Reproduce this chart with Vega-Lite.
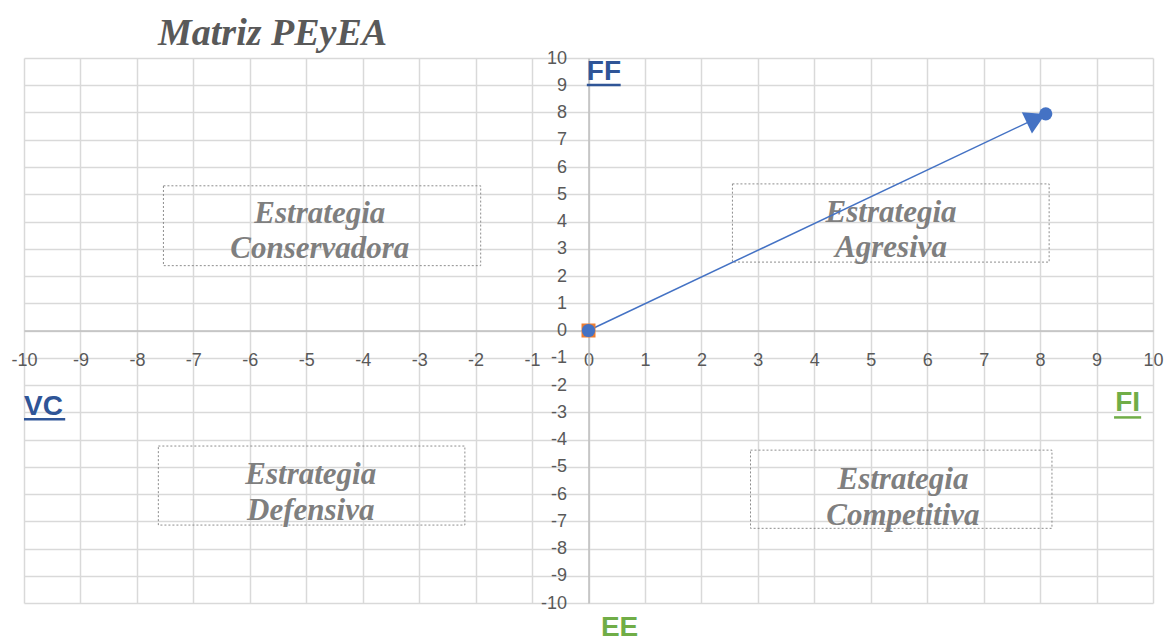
{
  "$schema": "https://vega.github.io/schema/vega-lite/v6.json",
  "width": 1129,
  "height": 545,
  "autosize": {"type": "none"},
  "padding": {"left": 24, "top": 58, "right": 12, "bottom": 39},
  "background": "#FFFFFF",
  "title": {
    "text": "Matriz PEyEA",
    "font": "Liberation Serif",
    "fontSize": 38,
    "fontStyle": "italic",
    "fontWeight": "bold",
    "color": "#595959",
    "anchor": "start",
    "frame": "group",
    "baseline": "alphabetic",
    "dx": 134,
    "offset": -34
  },
  "config": {
    "view": {"stroke": null},
    "axis": {
      "grid": true,
      "gridColor": "#D9D9D9",
      "gridWidth": 1.5,
      "domainColor": "#BFBFBF",
      "domainWidth": 1.5,
      "ticks": false,
      "tickSize": 0,
      "labelPadding": 21,
      "labelFont": "Liberation Sans",
      "labelFontSize": 18,
      "labelColor": "#595959",
      "labelFlush": false,
      "labelOverlap": false,
      "labelExpr": "'' + datum.value",
      "title": null
    }
  },
  "datasets": {
    "vector": [
      {"x": 0, "y": 0},
      {"x": 8.1, "y": 7.95}
    ],
    "origen": [
      {"x": 0, "y": 0}
    ],
    "flecha": [
      {"x": 7.93, "y": 7.78}
    ],
    "cuadrantes": [
      {"estrategia": "Estrategia\nConservadora", "x1": -7.53, "x2": -1.91, "y1": 5.31, "y2": 2.38, "tx": -4.76, "ty": 3.96},
      {"estrategia": "Estrategia\nAgresiva", "x1": 2.55, "x2": 8.16, "y1": 5.38, "y2": 2.51, "tx": 5.36, "ty": 3.99},
      {"estrategia": "Estrategia\nDefensiva", "x1": -7.62, "x2": -2.19, "y1": -4.24, "y2": -7.14, "tx": -4.92, "ty": -5.64},
      {"estrategia": "Estrategia\nCompetitiva", "x1": 2.87, "x2": 8.21, "y1": -4.39, "y2": -7.26, "tx": 5.57, "ty": -5.83}
    ],
    "ejes": [
      {"eje": "FF", "tipo": "Interna", "lx": -0.03, "ly": 9.19, "subrayado": true, "ux1": -0.03, "ux2": 0.57, "uy": 9.01},
      {"eje": "VC", "tipo": "Interna", "lx": -10.0, "ly": -3.1, "subrayado": true, "ux1": -10.0, "ux2": -9.27, "uy": -3.26},
      {"eje": "FI", "tipo": "Externa", "lx": 9.33, "ly": -2.94, "subrayado": true, "ux1": 9.31, "ux2": 9.79, "uy": -3.19},
      {"eje": "EE", "tipo": "Externa", "lx": 0.22, "ly": -11.21, "subrayado": false, "ux1": 0.22, "ux2": 0.22, "uy": -11.21}
    ]
  },
  "layer": [
    {
      "data": {"name": "cuadrantes"},
      "mark": {"type": "rect", "filled": false, "stroke": "#808080", "strokeWidth": 0.9, "strokeDash": [2, 2]},
      "encoding": {
        "x": {
          "field": "x1", "type": "quantitative",
          "scale": {"domain": [-10, 10], "nice": false, "zero": false},
          "axis": {"values": [-10,-9,-8,-7,-6,-5,-4,-3,-2,-1,0,1,2,3,4,5,6,7,8,9,10], "offset": -272.5, "labelPadding": 21}
        },
        "x2": {"field": "x2"},
        "y": {
          "field": "y1", "type": "quantitative",
          "scale": {"domain": [-10, 10], "nice": false, "zero": false},
          "axis": {"values": [-10,-9,-8,-7,-6,-5,-4,-3,-2,-1,0,1,2,3,4,5,6,7,8,9,10], "offset": -564.5, "labelPadding": 22}
        },
        "y2": {"field": "y2"}
      }
    },
    {
      "data": {"name": "cuadrantes"},
      "mark": {"type": "text", "font": "Liberation Serif", "fontSize": 31, "fontStyle": "italic", "fontWeight": "bold", "color": "#7F7F7F", "align": "center", "baseline": "alphabetic", "lineBreak": "\n", "lineHeight": 35.5},
      "encoding": {
        "x": {"field": "tx", "type": "quantitative", "axis": {"values": [-10,-9,-8,-7,-6,-5,-4,-3,-2,-1,0,1,2,3,4,5,6,7,8,9,10], "offset": -272.5, "labelPadding": 21}},
        "y": {"field": "ty", "type": "quantitative", "axis": {"values": [-10,-9,-8,-7,-6,-5,-4,-3,-2,-1,0,1,2,3,4,5,6,7,8,9,10], "offset": -564.5, "labelPadding": 22}},
        "text": {"field": "estrategia"}
      }
    },
    {
      "data": {"name": "ejes"},
      "transform": [{"filter": "datum.subrayado"}],
      "mark": {"type": "rule", "strokeWidth": 2.5, "clip": false},
      "encoding": {
        "x": {"field": "ux1", "type": "quantitative", "axis": {"values": [-10,-9,-8,-7,-6,-5,-4,-3,-2,-1,0,1,2,3,4,5,6,7,8,9,10], "offset": -272.5, "labelPadding": 21}},
        "x2": {"field": "ux2"},
        "y": {"field": "uy", "type": "quantitative", "axis": {"values": [-10,-9,-8,-7,-6,-5,-4,-3,-2,-1,0,1,2,3,4,5,6,7,8,9,10], "offset": -564.5, "labelPadding": 22}},
        "color": {"field": "tipo", "type": "nominal", "scale": {"domain": ["Interna", "Externa"], "range": ["#2F5597", "#70AD47"]}, "legend": null}
      }
    },
    {
      "data": {"name": "ejes"},
      "mark": {"type": "text", "font": "Liberation Sans", "fontSize": 28, "fontWeight": "bold", "align": "left", "baseline": "alphabetic", "clip": false},
      "encoding": {
        "x": {"field": "lx", "type": "quantitative", "axis": {"values": [-10,-9,-8,-7,-6,-5,-4,-3,-2,-1,0,1,2,3,4,5,6,7,8,9,10], "offset": -272.5, "labelPadding": 21}},
        "y": {"field": "ly", "type": "quantitative", "axis": {"values": [-10,-9,-8,-7,-6,-5,-4,-3,-2,-1,0,1,2,3,4,5,6,7,8,9,10], "offset": -564.5, "labelPadding": 22}},
        "text": {"field": "eje"},
        "color": {"field": "tipo", "type": "nominal", "legend": null}
      }
    },
    {
      "data": {"name": "vector"},
      "mark": {"type": "line", "color": "#4472C4", "strokeWidth": 1.5},
      "encoding": {
        "x": {"field": "x", "type": "quantitative", "axis": {"values": [-10,-9,-8,-7,-6,-5,-4,-3,-2,-1,0,1,2,3,4,5,6,7,8,9,10], "offset": -272.5, "labelPadding": 21}},
        "y": {"field": "y", "type": "quantitative", "axis": {"values": [-10,-9,-8,-7,-6,-5,-4,-3,-2,-1,0,1,2,3,4,5,6,7,8,9,10], "offset": -564.5, "labelPadding": 22}}
      }
    },
    {
      "data": {"name": "origen"},
      "mark": {"type": "point", "shape": "square", "filled": true, "size": 196, "color": "#ED7D31", "opacity": 1},
      "encoding": {
        "x": {"field": "x", "type": "quantitative", "axis": {"values": [-10,-9,-8,-7,-6,-5,-4,-3,-2,-1,0,1,2,3,4,5,6,7,8,9,10], "offset": -272.5, "labelPadding": 21}},
        "y": {"field": "y", "type": "quantitative", "axis": {"values": [-10,-9,-8,-7,-6,-5,-4,-3,-2,-1,0,1,2,3,4,5,6,7,8,9,10], "offset": -564.5, "labelPadding": 22}}
      }
    },
    {
      "data": {"name": "flecha"},
      "mark": {"type": "point", "shape": "triangle-right", "filled": true, "size": 560, "angle": -25.35, "color": "#4472C4", "opacity": 1},
      "encoding": {
        "x": {"field": "x", "type": "quantitative", "axis": {"values": [-10,-9,-8,-7,-6,-5,-4,-3,-2,-1,0,1,2,3,4,5,6,7,8,9,10], "offset": -272.5, "labelPadding": 21}},
        "y": {"field": "y", "type": "quantitative", "axis": {"values": [-10,-9,-8,-7,-6,-5,-4,-3,-2,-1,0,1,2,3,4,5,6,7,8,9,10], "offset": -564.5, "labelPadding": 22}}
      }
    },
    {
      "data": {"name": "vector"},
      "mark": {"type": "point", "shape": "circle", "filled": true, "size": 175, "color": "#4472C4", "opacity": 1},
      "encoding": {
        "x": {"field": "x", "type": "quantitative", "axis": {"values": [-10,-9,-8,-7,-6,-5,-4,-3,-2,-1,0,1,2,3,4,5,6,7,8,9,10], "offset": -272.5, "labelPadding": 21}},
        "y": {"field": "y", "type": "quantitative", "axis": {"values": [-10,-9,-8,-7,-6,-5,-4,-3,-2,-1,0,1,2,3,4,5,6,7,8,9,10], "offset": -564.5, "labelPadding": 22}}
      }
    }
  ]
}
